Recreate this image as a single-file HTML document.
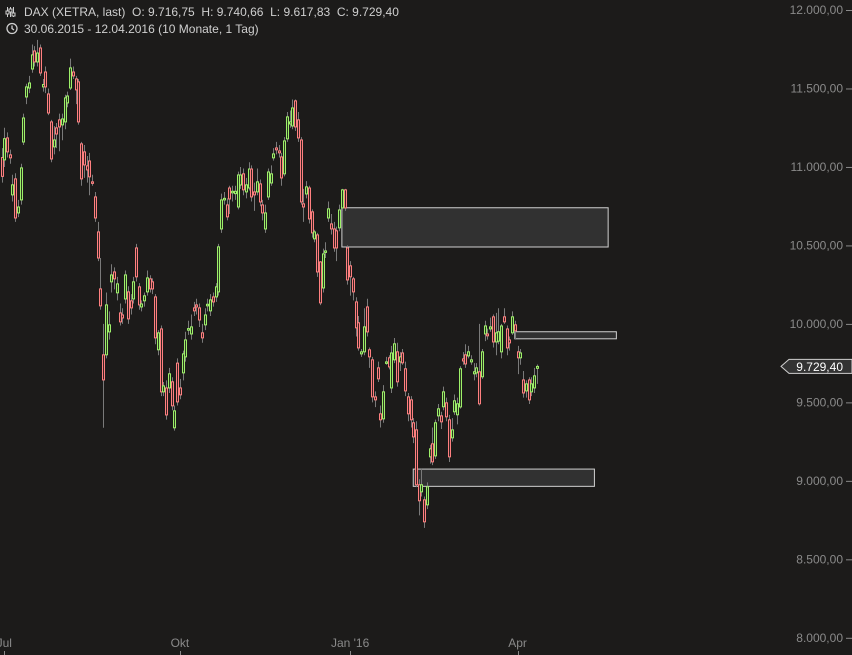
<!DOCTYPE html>
<html><head><meta charset="utf-8">
<style>
html,body{margin:0;padding:0;background:#1c1b1a;}
body{width:852px;height:655px;overflow:hidden;font-family:"Liberation Sans",sans-serif;}
svg{display:block}
</style></head>
<body>
<svg id="chart" width="852" height="655" xmlns="http://www.w3.org/2000/svg">
<rect x="0" y="0" width="852" height="655" fill="#1c1b1a"/>
<g id="header" font-size="12" fill="#cfcfcf">
  <g stroke="#cfcfcf" stroke-width="1">
    <line x1="7.5" y1="7" x2="7.5" y2="17"/><line x1="10.5" y1="7" x2="10.5" y2="17"/><line x1="13.5" y1="7" x2="13.5" y2="17"/>
    <rect x="6" y="11" width="3" height="3" fill="#1c1b1a"/><rect x="9" y="9" width="3" height="3" fill="#1c1b1a"/><rect x="12" y="13" width="3" height="3" fill="#1c1b1a"/>
  </g>
  <text x="24" y="16" style="white-space:pre">DAX (XETRA, last)  O: 9.716,75  H: 9.740,66  L: 9.617,83  C: 9.729,40</text>
  <g fill="none" stroke="#cfcfcf" stroke-width="1.3">
    <circle cx="12" cy="28.5" r="5"/><polyline points="12,25.5 12,28.5 14,30"/>
  </g>
  <text x="24" y="33">30.06.2015 - 12.04.2016 (10 Monate, 1 Tag)</text>
</g>
<g id="yaxis"></g>
<g id="xaxis"></g>
<g id="boxes"></g>
<g id="candles"></g>
<g id="lastprice"></g>
</svg>
<script>
const opens=[11060,11045,11185,11077,10822,10924,10707,10790,11159,11446,11503,11624,11739,11669,11758,11510,11605,11465,11287,11128,11249,11300,11268,11287,11408,11503,11605,11561,11542,11147,11096,11007,11038,10905,10809,10586,10223,9803,9803,9949,10268,10331,10198,10070,10057,10159,10204,10147,10159,10484,10236,10108,10147,10204,10287,10268,10172,9835,9968,9567,9592,9592,9631,9338,9750,9592,9688,9790,9960,9936,10102,10121,10102,9943,9994,10115,10083,10172,10172,10204,10605,10790,10758,10866,10835,10830,10745,10885,10956,10841,10866,10987,10841,10841,10892,10758,10605,10809,10898,11058,11121,11102,11064,10956,11179,11274,11261,11421,11300,11172,10765,10828,10866,10714,10542,10567,10395,10229,10465,10675,10637,10605,10593,10612,10739,10854,10484,10370,10287,10140,10007,9809,9822,10108,9835,9771,9535,9720,9427,9395,9758,9784,9592,9771,9822,9758,9815,9714,9535,9516,9370,9325,8975,8930,8879,8847,9153,9236,9159,9414,9414,9472,9497,9389,9274,9440,9421,9471,9777,9803,9796,9758,9682,9688,9695,9663,9936,9936,9968,10045,9885,9890,9822,10045,9968,9898,9943,9994,9822,9784,9643,9573,9643,9567,9592,9717];
const closes=[10940,11180,11096,11058,10886,10675,10745,10994,11312,11510,11535,11714,11669,11726,11599,11525,11510,11344,11051,11172,11210,11255,11306,11440,11452,11631,11580,11491,11287,10924,11013,10981,10937,10900,10675,10420,10115,9643,10121,9994,10312,10287,10255,10013,10038,10312,10032,10102,10268,10300,10121,10127,10179,10293,10223,10223,9911,9943,9567,9605,9420,9682,9478,9446,9503,9548,9809,9898,9970,9981,10083,10108,10025,9911,10057,10125,10153,10140,10236,10491,10790,10800,10682,10796,10845,10845,10949,10949,10854,10886,10987,10809,10822,10905,10777,10707,10707,10968,10956,11083,11109,11090,10930,11166,11319,11287,11376,11255,11185,10777,10745,10873,10669,10580,10586,10331,10134,10446,10465,10733,10605,10484,10484,10726,10854,10739,10280,10300,10204,9975,9847,9822,9981,9949,9790,9535,9516,9650,9389,9567,9758,9726,9815,9873,9631,9790,9752,9573,9427,9389,9280,8975,8873,8975,8739,8962,9204,9121,9370,9459,9376,9567,9408,9153,9325,9510,9491,9714,9764,9745,9822,9771,9695,9720,9491,9822,9987,9924,9981,9885,9943,9950,9987,10013,9847,9879,10045,9956,9784,9815,9560,9618,9516,9618,9669,9729];
const highs=[11120,11250,11220,11110,10950,10960,10790,11020,11340,11530,11580,11780,11770,11810,11780,11560,11640,11500,11300,11260,11280,11340,11340,11460,11480,11690,11640,11580,11560,11160,11140,11070,11090,10950,10840,10650,10420,10000,10200,10080,10380,10360,10300,10130,10100,10340,10240,10190,10300,10510,10260,10150,10200,10340,10310,10290,10190,9960,9990,9630,9640,9720,9660,9480,9780,9650,9830,9950,10020,10060,10140,10160,10130,10000,10100,10160,10190,10200,10260,10510,10830,10840,10800,10880,10880,10880,10970,11000,10990,10930,11030,11010,10900,10990,10920,10790,10760,10990,11010,11120,11160,11140,11090,11190,11350,11360,11430,11430,11350,11190,10860,10910,10880,10730,10600,10580,10400,10480,10520,10780,10700,10650,10620,10760,10860,10860,10500,10400,10300,10170,10050,9840,10100,10160,9850,9790,9570,9760,9480,9610,9790,9800,9860,9910,9880,9820,9840,9760,9560,9540,9400,9380,9010,9080,8900,8990,9230,9340,9390,9490,9440,9600,9530,9420,9400,9550,9530,9730,9820,9870,9860,9800,9750,9750,10000,9840,10020,9970,10040,10060,10070,10100,10000,10100,9990,9920,10080,10020,9860,9840,9700,9640,9660,9660,9720,9741];
const lows=[10900,11000,11060,11020,10780,10650,10680,10760,11140,11400,11470,11600,11640,11640,11580,11480,11470,11330,11030,11080,11120,11100,11170,11240,11380,11490,11560,11400,11270,10880,10930,10900,10820,10880,10650,10400,10090,9338,9780,9900,10200,10220,10150,9990,10000,10130,10000,10060,10130,10270,10090,10080,10110,10180,10200,10190,9870,9800,9540,9540,9390,9560,9450,9320,9480,9520,9640,9760,9930,9900,10050,10060,9980,9880,9960,10080,10050,10110,10140,10180,10580,10760,10660,10700,10780,10790,10730,10860,10820,10800,10850,10780,10720,10820,10750,10660,10580,10790,10880,11040,11080,11060,10880,10940,11160,11250,11240,11230,11160,10760,10650,10800,10640,10550,10520,10300,10120,10200,10420,10650,10570,10460,10400,10590,10720,10720,10250,10180,10150,9920,9830,9790,9800,9920,9720,9500,9470,9630,9340,9370,9740,9710,9560,9750,9600,9700,9740,9540,9380,9340,9240,8960,8780,8900,8700,8820,9110,9100,9140,9380,9330,9450,9380,9120,9250,9420,9360,9460,9740,9720,9780,9740,9640,9660,9480,9650,9890,9900,9950,9850,9800,9870,9780,10000,9800,9830,9930,9900,9680,9740,9530,9530,9490,9540,9560,9618];
const yTicks=[12000,11500,11000,10500,10000,9500,9000,8500,8000];
const yTickLabels=["12.000,00","11.500,00","11.000,00","10.500,00","10.000,00","9.500,00","9.000,00","8.500,00","8.000,00"];
const xTickIdx=[1,65,127,188];
const xTickLabels=["Jul","Okt","Jan '16","Apr"];
const zoneTop=[10740,9950,9075];
const zoneBottom=[10490,9905,8965];
const zoneStart=[124,187,150];
const zoneEnd=[221,224,216];
const lastPrice=9729.40;

const NS="http://www.w3.org/2000/svg";
function y(v){return 10+(12000-v)*0.15695;}
function x(i){return 1.5+i*2.745;}
function mk(tag,attrs,parent){const e=document.createElementNS(NS,tag);for(const k in attrs)e.setAttribute(k,attrs[k]);parent.appendChild(e);return e;}

const ya=document.getElementById('yaxis');
yTicks.forEach((v,i)=>{
  const t=mk('text',{x:843,y:y(v)+4,'text-anchor':'end','font-size':12,fill:'#8a8a8a'},ya);
  t.textContent=yTickLabels[i];
  
  
  const l=mk('line',{x1:846,x2:852,y1:y(v)+0.5,y2:y(v)+0.5,stroke:'#8a8a8a'},ya);
  
  
});
const xa=document.getElementById('xaxis');
xTickIdx.forEach((d,i)=>{
  const t=mk('text',{x:x(d),y:647,'text-anchor':'middle','font-size':12,fill:'#8a8a8a'},xa);
  t.textContent=xTickLabels[i];
  
  
  const l=mk('line',{x1:Math.round(x(d))+0.5,x2:Math.round(x(d))+0.5,y1:651,y2:655,stroke:'#8a8a8a'},xa);
  
  
});
const bx=document.getElementById('boxes');
zoneTop.forEach((v,i)=>{
  const r=mk('rect',{x:x(zoneStart[i]),y:y(v),width:x(zoneEnd[i])-x(zoneStart[i]),height:y(zoneBottom[i])-y(v),fill:'#333333','fill-opacity':0.92,stroke:'#d0d0d0','stroke-width':1},bx);
  
  
});
const cg=document.getElementById('candles');
opens.forEach((o,i)=>{
  const c=closes[i],up=c>=o;
  const col=up?'#9ef06a':'#ff8080';
  const cx=Math.round(x(i))+0.5;
  const g=mk('g',{},cg);
  
  
  mk('line',{x1:cx,x2:cx,y1:y(highs[i]),y2:y(lows[i]),stroke:'#7a7a7a','stroke-width':1},g);
  const top=y(Math.max(o,c)),bot=y(Math.min(o,c));
  mk('rect',{x:cx-1,y:top,width:2,height:Math.max(1.5,bot-top),fill:up?'#2a3a1f':'#3a2222',stroke:col,'stroke-width':1},g);
});
const lp=document.getElementById('lastprice');
const ly=y(lastPrice);
const poly=mk('polygon',{points:`781,${ly} 789,${ly-7} 852,${ly-7} 852,${ly+7} 789,${ly+7}`,fill:'#333',stroke:'#d0d0d0','stroke-width':1},lp);


const lt=mk('text',{x:843,y:ly+4.5,'text-anchor':'end','font-size':12,fill:'#ffffff'},lp);
lt.textContent='9.729,40';


</script>
</body></html>
